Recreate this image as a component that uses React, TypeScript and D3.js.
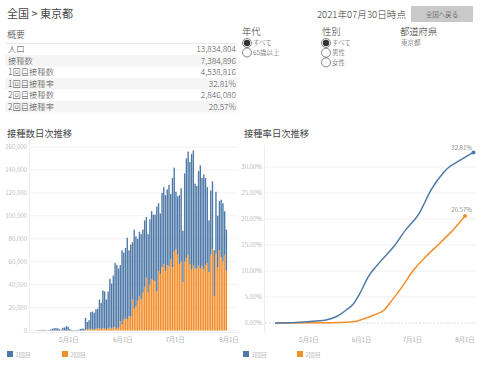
import React, { useEffect } from 'react';
import * as d3 from 'd3';

// summary table
const summaryLabels = ['人口', '接種数', '1回目接種数', '1回目接種率', '2回目接種数', '2回目接種率'];
const summaryValues = ['13,834,804', '7,384,896', '4,538,816', '32.81%', '2,846,080', '20.57%'];

const ageOptions = ['すべて', '65歳以上'];
const sexOptions = ['すべて', '男性', '女性'];

// daily doses from 2021-04-12
const startDay = new Date(2021, 3, 12);
const dose1Daily = [
  200, 300, 400, 400, 500, 300, 200, 400, 900, 1600, 2000, 2100, 1900, 1200, 600, 2400, 2600, 3800, 3300,
  1200, 500, 400, 300, 500, 400, 1400, 1700, 1500,
  10100, 6500, 7800, 14500, 15300, 14700, 17000, 17000, 25200, 22500, 32800, 32200, 26000, 32000, 42500,
  39200, 45400, 56000, 55500, 51500, 49000, 65000, 58600, 61000, 71000, 57500, 63000, 50000, 69000, 61000,
  54000, 56000, 57000, 55000, 58000, 53000, 51000, 57000, 59000, 57000, 58000, 74000, 59000, 53000, 65000,
  67000, 66000, 66000, 71000, 57000, 78000, 73000, 50000, 51000, 60000, 64000, 45000, 77000, 87000, 90000,
  89000, 101000, 100000, 74000, 72000, 82000, 90000, 77000, 83000, 76000, 66000, 45000, 56000, 59000,
  40000, 54000, 45000, 43000, 50000, 51000, 38000, 36000,
];
const dose2Daily = [
  0, 0, 0, 0, 0, 0, 0, 0, 0, 0, 0, 0, 0, 0, 0, 0, 0, 0, 0,
  0, 0, 0, 0, 0, 0, 0, 0, 0,
  900, 1000, 1200, 1500, 1200, 800, 1500, 2000, 1800, 1500, 2200, 1800, 1000, 2000, 2500,
  1800, 2600, 3000, 1500, 2500, 8000, 5000, 9400, 11000, 10000, 12500, 12000, 27000, 19000, 21000,
  26000, 30000, 27000, 33000, 38000, 46000, 33000, 40000, 45000, 44000, 43000, 34000, 52000, 49000, 55000,
  58000, 52000, 57000, 56000, 62000, 55000, 69000, 71000, 66000, 58000, 60000, 42000, 60000, 63000, 66000,
  58000, 53000, 57000, 54000, 54000, 57000, 54000, 56000, 53000, 57000, 59000, 51000, 66000, 71000,
  30000, 67000, 55000, 70000, 64000, 60000, 66000, 52000,
];

// cumulative rate (%) read at sample dates
const rate1Dates = ['2021-04-11', '2021-04-20', '2021-04-28', '2021-05-05', '2021-05-11', '2021-05-17', '2021-05-23',
  '2021-05-27', '2021-05-31', '2021-06-05', '2021-06-12', '2021-06-20', '2021-06-27', '2021-07-05', '2021-07-12',
  '2021-07-19', '2021-07-23', '2021-07-26', '2021-08-06'];
const rate1Values = [0, 0.05, 0.2, 0.38, 0.58, 1.2, 2.5, 3.6, 5.7, 8.9, 11.8, 14.7, 17.9, 21.1, 25.6, 28.8, 30.1, 30.7, 32.81];
const rate2Dates = ['2021-04-11', '2021-05-09', '2021-05-27', '2021-06-02', '2021-06-08', '2021-06-14', '2021-06-19',
  '2021-06-25', '2021-07-01', '2021-07-09', '2021-07-17', '2021-07-22', '2021-07-25', '2021-08-01'];
const rate2Values = [0, 0.05, 0.25, 0.77, 1.5, 2.4, 4.4, 7.0, 9.9, 12.8, 15.3, 16.9, 17.9, 20.57];

const countTicks = [0, 20000, 40000, 60000, 80000, 100000, 120000, 140000, 160000];
const rateTicks = [0, 5, 10, 15, 20, 25, 30];
const monthTicks = [new Date(2021, 4, 1), new Date(2021, 5, 1), new Date(2021, 6, 1), new Date(2021, 7, 1)];
const legendLabels = ['1回目', '2回目'];

const BLUE = '#4e79a7';
const ORANGE = '#f28e2b';
const FONT = '"Noto Sans CJK JP", "Noto Sans", sans-serif';

export default function App() {
  useEffect(() => {
    document.body.style.margin = '0';
  }, []);

  const parse = d3.timeParse('%Y-%m-%d');
  const fmtMonth = d3.timeFormat('%-m月%-d日');

  // left chart
  const xL = d3.scaleTime().domain([monthTicks[0], monthTicks[3]]).range([69, 229]);
  const yL = d3.scaleLinear().domain([0, 160000]).range([330.5, 147]);
  const step = xL(d3.timeDay.offset(monthTicks[0], 1)) - xL(monthTicks[0]);
  const days = dose1Daily.map((v, i) => ({ date: d3.timeDay.offset(startDay, i), dose1: v, dose2: dose2Daily[i] }));
  const stacked = d3.stack<any>().keys(['dose2', 'dose1'])(days);

  // right chart
  const xR = d3.scaleTime().domain([monthTicks[0], monthTicks[3]]).range([309, 465]);
  const yR = d3.scaleLinear().domain([0, 30]).range([323, 167]);
  const r1 = rate1Dates.map((d, i) => ({ date: parse(d)!, v: rate1Values[i] }));
  const r2 = rate2Dates.map((d, i) => ({ date: parse(d)!, v: rate2Values[i] }));
  const line = d3.line<{ date: Date; v: number }>()
    .x(d => xR(d.date))
    .y(d => yR(d.v))
    .curve(d3.curveMonotoneX);
  const last1 = r1[r1.length - 1];
  const last2 = r2[r2.length - 1];

  return (
    <svg width={480} height={365} style={{ display: 'block', fontFamily: FONT, fontWeight: 300 }}>
      <rect width={480} height={365} fill="#fff" />

      {/* header */}
      <text x={7} y={18} fontSize={11} fontWeight={400} fill="#444">全国 &gt; 東京都</text>
      <text x={7} y={37.5} fontSize={9} fill="#444">概要</text>
      <line x1={5} x2={237} y1={43.5} y2={43.5} stroke="#e8e8e8" />
      {summaryLabels.map((lab, i) => {
        const top = 43.5 + i * 11.5;
        return (
          <g key={lab}>
            {i % 2 === 1 && <rect x={5} y={top} width={232} height={11.5} fill="#f5f5f5" />}
            <text x={8} y={top + 8.7} fontSize={8.3} fill="#444">{lab}</text>
            <text x={236} y={top + 8.7} fontSize={8.3} fill="#555" textAnchor="end">{summaryValues[i]}</text>
          </g>
        );
      })}

      <text x={406} y={17.5} fontSize={9.6} fill="#333" textAnchor="end">2021年07月30日時点</text>
      <rect x={411} y={6} width={62} height={16} fill="#c9c9c9" />
      <text x={442} y={16.5} fontSize={6.5} fill="#333" textAnchor="middle">全国へ戻る</text>

      {/* filters */}
      <text x={242} y={35} fontSize={9.3} fill="#333">年代</text>
      <text x={322} y={35} fontSize={9.3} fill="#333">性別</text>
      <text x={400} y={35} fontSize={9.3} fill="#333">都道府県</text>
      <text x={401} y={45.3} fontSize={6.5} fill="#444">東京都</text>
      {ageOptions.map((o, i) => (
        <g key={o}>
          <circle cx={247} cy={43 + i * 9.5} r={4.5} fill="#fff" stroke="#666" strokeWidth={0.8} />
          {i === 0 && <circle cx={247} cy={43} r={3.2} fill="#333" />}
          <text x={253} y={45.3 + i * 9.5} fontSize={6.5} fill="#444">{o}</text>
        </g>
      ))}
      {sexOptions.map((o, i) => (
        <g key={o}>
          <circle cx={326} cy={43 + i * 9.7} r={4.5} fill="#fff" stroke="#666" strokeWidth={0.8} />
          {i === 0 && <circle cx={326} cy={43} r={3.2} fill="#333" />}
          <text x={332} y={45.3 + i * 9.7} fontSize={6.5} fill="#444">{o}</text>
        </g>
      ))}

      {/* left chart */}
      <text x={7} y={136.5} fontSize={9.3} fontWeight={400} fill="#444">接種数日次推移</text>
      {countTicks.map(t => (
        <g key={t}>
          <line x1={30} x2={238} y1={yL(t)} y2={yL(t)} stroke="#f2f2f2" />
          <text x={27} y={yL(t) + 2.3} fontSize={6.3} fill="#999" textAnchor="end">{d3.format(',')(t)}</text>
        </g>
      ))}
      <line x1={29.5} x2={29.5} y1={140} y2={333} stroke="#ededed" />
      <line x1={30} x2={238} y1={332.5} y2={332.5} stroke="#ededed" />
      {stacked.map(s => (
        <g key={s.key} fill={s.key === 'dose1' ? BLUE : ORANGE}>
          {s.map((d, i) => (
            <rect key={i}
              x={xL(days[i].date) + step * 0.1}
              width={step * 0.8}
              y={yL(d[1])}
              height={Math.max(0, yL(d[0]) - yL(d[1]))} />
          ))}
        </g>
      ))}
      {monthTicks.map(t => (
        <text key={+t} x={xL(t)} y={341.5} fontSize={6.3} fill="#777" textAnchor="middle">{fmtMonth(t)}</text>
      ))}

      {/* right chart */}
      <text x={244} y={136.5} fontSize={9.3} fontWeight={400} fill="#444">接種率日次推移</text>
      {rateTicks.map(t => (
        <g key={t}>
          <line x1={265} x2={476} y1={yR(t)} y2={yR(t)} stroke={t === 0 ? '#dcdcdc' : '#f2f2f2'}
            strokeDasharray={t === 0 ? '2,1.5' : undefined} />
          <text x={262} y={yR(t) + 2.3} fontSize={6.3} fill="#999" textAnchor="end">{t.toFixed(2)}%</text>
        </g>
      ))}
      <line x1={264.5} x2={264.5} y1={145} y2={333} stroke="#ededed" />
      <path d={line(r2) || ''} fill="none" stroke={ORANGE} strokeWidth={1.5} />
      <path d={line(r1) || ''} fill="none" stroke={BLUE} strokeWidth={1.5} />
      <circle cx={xR(last1.date)} cy={yR(last1.v)} r={2} fill={BLUE} />
      <circle cx={xR(last2.date)} cy={yR(last2.v)} r={2} fill={ORANGE} />
      <text x={472} y={yR(last1.v) - 2} fontSize={6.3} fill="#555" textAnchor="end">{last1.v.toFixed(2)}%</text>
      <text x={472} y={yR(last2.v) - 4} fontSize={6.3} fill="#555" textAnchor="end">{last2.v.toFixed(2)}%</text>
      {monthTicks.map(t => (
        <text key={+t} x={xR(t)} y={341.5} fontSize={6.3} fill="#777" textAnchor="middle">{fmtMonth(t)}</text>
      ))}

      {/* legends */}
      {[7, 243].map(ox => (
        <g key={ox}>
          {legendLabels.map((lab, i) => (
            <g key={lab} transform={`translate(${ox + i * (ox === 7 ? 55 : 54)},351)`}>
              <rect width={6} height={6} fill={i === 0 ? BLUE : ORANGE} />
              <text x={8.5} y={5.5} fontSize={6} fill="#888">{lab}</text>
            </g>
          ))}
        </g>
      ))}
    </svg>
  );
}
